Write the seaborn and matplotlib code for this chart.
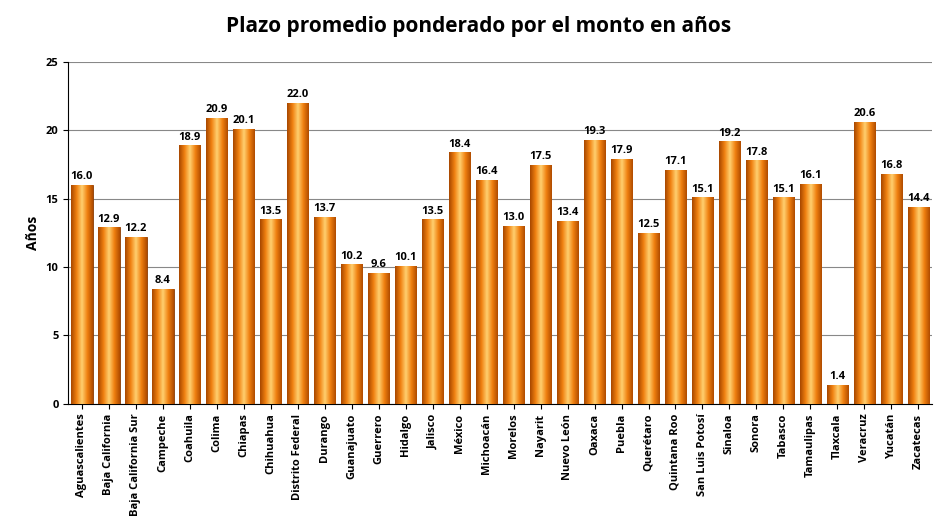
import matplotlib
matplotlib.use("Agg")
import matplotlib.pyplot as plt
import seaborn as sns
import numpy as np
import pandas as pd
from matplotlib.colors import LinearSegmentedColormap

states = ["Aguascalientes","Baja California","Baja California Sur","Campeche","Coahuila","Colima",
          "Chiapas","Chihuahua","Distrito Federal","Durango","Guanajuato","Guerrero","Hidalgo",
          "Jalisco","México","Michoacán","Morelos","Nayarit","Nuevo León","Oaxaca","Puebla",
          "Querétaro","Quintana Roo","San Luis Potosí","Sinaloa","Sonora","Tabasco","Tamaulipas",
          "Tlaxcala","Veracruz","Yucatán","Zacatecas"]
values = [16.0,12.9,12.2,8.4,18.9,20.9,20.1,13.5,22.0,13.7,10.2,9.6,10.1,13.5,18.4,16.4,13.0,
          17.5,13.4,19.3,17.9,12.5,17.1,15.1,19.2,17.8,15.1,16.1,1.4,20.6,16.8,14.4]
yticks = [0,5,10,15,20,25]

df = pd.DataFrame({"estado": states, "valor": values})
fig = plt.figure(figsize=(9.48,5.3), dpi=100)
ax = fig.add_axes([0.072, 0.238, 0.911, 0.645])
sns.barplot(data=df, x="estado", y="valor", ax=ax, color="#E06A00", width=0.8,
            edgecolor="#8a3a00", linewidth=0.6, zorder=3)
ax.set_ylim(0,25)
ax.set_xlim(-0.5, len(states)-0.5)
ax.set_yticks(yticks)
ax.yaxis.grid(True, color="#888888", linewidth=0.8, zorder=0)
ax.set_axisbelow(True)
cmap = LinearSegmentedColormap.from_list("o", ["#A84800","#F08010","#FFD070","#F08010","#B04C00"])
grad = np.linspace(0,1,64).reshape(1,-1)
for p in ax.patches:
    x0, w, h = p.get_x(), p.get_width(), p.get_height()
    im = ax.imshow(grad, cmap=cmap, extent=[x0, x0+w, 0, h], aspect="auto", zorder=3.5)
    im.set_clip_path(p)
for i, v in enumerate(values):
    ax.text(i, v+0.2, f"{v:.1f}", ha="center", va="bottom", fontsize=8, fontweight="bold",
            fontfamily="Open Sans", zorder=5)
ax.set_xlim(-0.5, len(states)-0.5); ax.set_ylim(0,25)
ax.set_xlabel("")
ax.set_ylabel("Años", fontsize=10, fontweight="bold", fontfamily="Open Sans")
ax.tick_params(axis="x", rotation=90, labelsize=8)
ax.tick_params(axis="y", labelsize=8)
for lab in ax.get_xticklabels()+ax.get_yticklabels():
    lab.set_fontweight("bold"); lab.set_fontfamily("Open Sans")
for s in ["top","right"]:
    ax.spines[s].set_visible(False)
fig.suptitle("Plazo promedio ponderado por el monto en años", x=0.505, y=0.97,
             fontsize=15, fontweight="bold", fontfamily="Open Sans")
fig.savefig("out.png", dpi=100)
